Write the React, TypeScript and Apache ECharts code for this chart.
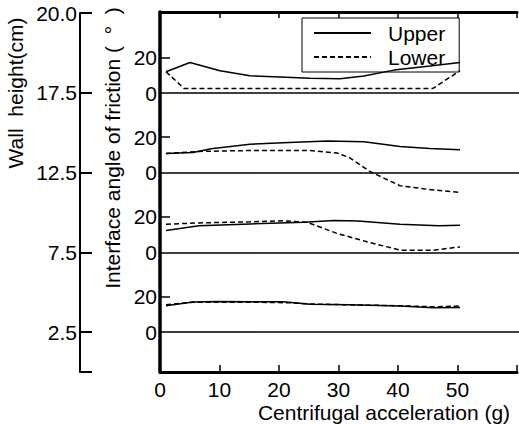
import React, { useEffect, useRef } from "react";
import * as echarts from "echarts";

const FONT = "'Liberation Sans', Arial, Helvetica, sans-serif";

// x axis (centrifugal acceleration, g)
const xTickMax = 50;

// inner axis (interface angle of friction) labels per panel
const angleLabelValues = [0, 20];
const angleTickValues = [20];

// wall height axis
const wallHeightLabels = ["2.5", "7.5", "12.5", "17.5", "20.0"];
const wallHeightPositions = [2.5, 7.5, 12.5, 17.5, 22.5];

// Panel 1 (wall height 17.5 cm)
const p1Upper = [[1, 12], [5, 17.2], [10, 12.5], [15, 9.7], [20, 9], [25, 8.3], [30, 8.1], [34, 9.6], [39, 12.9], [45, 15.2], [50, 17.2]];
const p1Lower = [[1, 12], [4, 2.6], [10, 2.5], [20, 2.5], [30, 2.5], [40, 2.5], [45.5, 2.6], [50, 12.6]];
// Panel 2 (12.5 cm)
const p2Upper = [[1, 10.8], [5.5, 11.4], [8.5, 13.5], [15, 16], [21.5, 17], [28, 17.8], [34, 17.4], [40, 14.8], [45, 13.6], [50, 12.9]];
const p2Lower = [[1, 10.8], [6.5, 12], [15, 12.5], [25, 12.5], [29.5, 11.1], [31.5, 8.6], [35, 0.7], [40, -7.3], [45.5, -9.7], [50, -11]];
// Panel 3 (7.5 cm)
const p3Upper = [[1, 12.3], [6.5, 15], [15, 16], [24, 17], [29, 18], [33, 17.7], [40, 15.8], [46.5, 15], [50, 15.3]];
const p3Lower = [[1, 15.9], [6.5, 16.6], [15, 17.2], [20.5, 17.8], [24.5, 17], [29.5, 10.7], [34.5, 6], [40, 1.3], [45.5, 1.2], [50, 3.1]];
// Panel 4 (2.5 cm)
const p4Upper = [[1, 14.8], [5.5, 16.9], [9.5, 17.2], [20.5, 17], [25, 15.7], [31.5, 15.3], [40, 14.6], [45.5, 13.6], [50, 13.8]];
const p4Lower = [[1, 15.3], [5.5, 16.8], [15, 16.8], [21.5, 16.5], [25, 15.8], [31.5, 15.3], [40, 14.8], [45.5, 14.2], [50, 14.6]];

const panels = [
  { upper: p1Upper, lower: p1Lower },
  { upper: p2Upper, lower: p2Lower },
  { upper: p3Upper, lower: p3Lower },
  { upper: p4Upper, lower: p4Lower },
];

const panelTops = [48.6, 128.3, 208, 287.6];

export default function App() {
  const ref = useRef<HTMLDivElement>(null);
  useEffect(() => {
    if (!ref.current) return;
    const chart = echarts.init(ref.current, undefined, { renderer: "svg" });
    const black = "#000";
    const labelStyle = { color: black, fontSize: 21, fontFamily: FONT };

    const grids: any[] = [
      { left: 160, top: 12, width: 360, height: 360 },
      ...panelTops.map((t) => ({ left: 160, top: t, width: 360, height: 80 })),
      { left: 80, top: 13, width: 10, height: 359 },
    ];

    const xAxes: any[] = [
      {
        gridIndex: 0, type: "value", min: 0, max: 60, interval: 10, position: "bottom",
        axisLine: { onZero: false, lineStyle: { color: black, width: 3 } },
        axisTick: { inside: true, length: 7, lineStyle: { color: black, width: 1.5 } },
        axisLabel: { ...labelStyle, margin: 7, formatter: (v: number) => (v <= xTickMax ? String(v) : "") },
        splitLine: { show: false },
      },
      {
        gridIndex: 0, type: "value", min: 0, max: 60, interval: 10, position: "top",
        axisLine: { onZero: false, lineStyle: { color: black, width: 3 } },
        axisTick: { inside: true, length: 6, lineStyle: { color: black, width: 1.5 } },
        axisLabel: { show: false },
        splitLine: { show: false },
      },
      ...panelTops.map((_, i) => ({
        gridIndex: i + 1, type: "value", min: 0, max: 60,
        axisLine: { show: true, onZero: true, lineStyle: { color: black, width: 1.5 } },
        axisTick: { show: false }, axisLabel: { show: false }, splitLine: { show: false },
      })),
      { gridIndex: 5, type: "value", show: false },
    ];

    const yAxes: any[] = [
      {
        gridIndex: 0, type: "value", min: 0, max: 1,
        axisLine: { show: true, onZero: false, lineStyle: { color: black, width: 3.5 } },
        axisTick: { show: false }, axisLabel: { show: false }, splitLine: { show: false },
      },
      ...panelTops.map((_, i) => ({
        gridIndex: i + 1, type: "value", min: -20, max: 25,
        axisLine: { show: false },
        axisTick: { show: true, inside: true, length: 10, customValues: angleTickValues, lineStyle: { color: black, width: 1.5 } },
        axisLabel: { ...labelStyle, margin: 3, customValues: angleLabelValues },
        splitLine: { show: false },
      })),
      {
        gridIndex: 5, type: "value", min: 0, max: 22.5, position: "left",
        axisLine: { show: true, onZero: false, lineStyle: { color: black, width: 2 } },
        axisTick: { show: true, inside: true, length: 12, customValues: [0, ...wallHeightPositions], lineStyle: { color: black, width: 2 } },
        axisLabel: {
          ...labelStyle, margin: 3, customValues: wallHeightPositions,
          formatter: (v: number) => {
            const i = wallHeightPositions.indexOf(v);
            return i >= 0 ? wallHeightLabels[i] : "";
          },
        },
        splitLine: { show: false },
      },
    ];

    const series: any[] = [];
    panels.forEach((p, i) => {
      series.push({
        type: "line", name: "Upper", xAxisIndex: i + 2, yAxisIndex: i + 1, data: p.upper,
        symbol: "none", lineStyle: { color: black, width: 1.5, type: "solid" }, itemStyle: { color: black },
      });
      series.push({
        type: "line", name: "Lower", xAxisIndex: i + 2, yAxisIndex: i + 1, data: p.lower,
        symbol: "none", lineStyle: { color: black, width: 1.5, type: [5, 3] }, itemStyle: { color: black },
      });
    });

    chart.setOption({
      animation: false,
      backgroundColor: "#fff",
      grid: grids,
      xAxis: xAxes,
      yAxis: yAxes,
      legend: {
        data: ["Upper", "Lower"], orient: "vertical", left: 302, top: 18,
        padding: [3, 14, 3, 11], itemGap: 0, itemWidth: 57, itemHeight: 14,
        backgroundColor: "transparent", borderColor: black, borderWidth: 1, borderRadius: 0,
        itemStyle: { color: "rgba(0,0,0,0)", borderColor: "rgba(0,0,0,0)", borderWidth: 0 },
        textStyle: { color: black, fontSize: 21, fontFamily: FONT, lineHeight: 24, padding: [0, 0, 0, 12] },
      },
      graphic: [
        { type: "text", x: 15, y: 93, rotation: Math.PI / 2, style: { text: "Wall  height(cm)", font: `21px ${FONT}`, fill: black, textAlign: "center", textVerticalAlign: "middle" } },
        { type: "text", x: 112, y: 148, rotation: Math.PI / 2, style: { text: "Interface angle of friction (  °  )", font: `21px ${FONT}`, fill: black, textAlign: "center", textVerticalAlign: "middle" } },
        { type: "text", x: 384, y: 412, style: { text: "Centrifugal acceleration (g)", font: `21px ${FONT}`, fill: black, textAlign: "center", textVerticalAlign: "middle" } },
      ],
      series,
    });
    return () => chart.dispose();
  }, []);
  return <div ref={ref} style={{ position: "absolute", left: 0, top: 0, width: 520, height: 426 }} />;
}
